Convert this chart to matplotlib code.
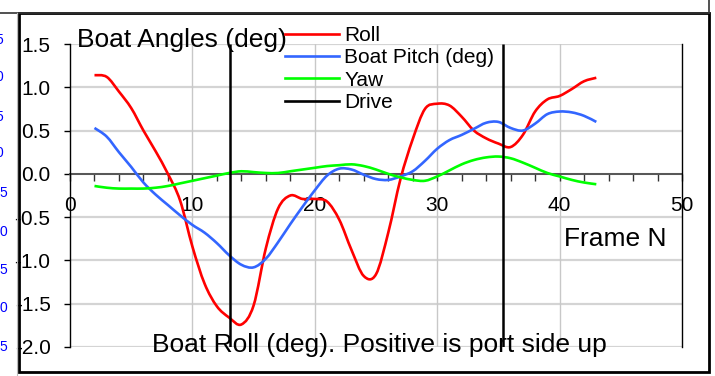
"""Boat angles vs frame number, Excel-style chart."""
import matplotlib
matplotlib.use("Agg")
import matplotlib.pyplot as plt
from matplotlib.path import Path
from matplotlib.patches import PathPatch, Rectangle
from matplotlib.lines import Line2D

plt.rcParams["font.family"] = ["Liberation Sans", "DejaVu Sans"]
plt.rcParams["axes.unicode_minus"] = False

# --- data --------------------------------------------------------------
frames = list(range(2, 44))
roll = [1.14, 1.12, 0.95, 0.76, 0.50, 0.26, 0.00, -0.31, -0.84, -1.27,
        -1.53, -1.66, -1.74, -1.52, -0.86, -0.40, -0.25, -0.29, -0.29, -0.32,
        -0.53, -0.88, -1.18, -1.16, -0.68, -0.06, 0.40, 0.75, 0.81, 0.79,
        0.66, 0.50, 0.41, 0.35, 0.31, 0.45, 0.72, 0.86, 0.90, 0.98,
        1.07, 1.11]
pitch = [0.53, 0.43, 0.25, 0.08, -0.10, -0.24, -0.36, -0.48, -0.59, -0.68,
         -0.80, -0.94, -1.05, -1.08, -0.98, -0.79, -0.58, -0.38, -0.19, -0.02,
         0.06, 0.05, -0.01, -0.06, -0.07, -0.03, 0.03, 0.15, 0.29, 0.39,
         0.45, 0.52, 0.59, 0.60, 0.53, 0.50, 0.58, 0.69, 0.72, 0.71,
         0.67, 0.60]
yaw = [-0.14, -0.16, -0.17, -0.17, -0.17, -0.16, -0.14, -0.11, -0.08, -0.05,
       -0.02, 0.01, 0.03, 0.02, 0.01, 0.01, 0.03, 0.05, 0.07, 0.09,
       0.10, 0.11, 0.09, 0.05, 0.00, -0.04, -0.07, -0.08, -0.03, 0.04,
       0.11, 0.16, 0.19, 0.20, 0.18, 0.13, 0.07, 0.01, -0.03, -0.07,
       -0.10, -0.12]
drive_frames = [13.1, 35.4]
drive_range = [-2.0, 1.5]

series_names = ["Roll", "Boat Pitch (deg)", "Yaw", "Drive"]
series_colors = ["#FF0000", "#3366FF", "#00FF00", "#000000"]

x_ticks = [0, 10, 20, 30, 40, 50]
y_ticks = [1.5, 1.0, 0.5, 0.0, -0.5, -1.0, -1.5, -2.0]
side_labels = ["5", "0", "5", "0", "5", "0", "5", "0", "5"]


def smooth_path(x, y):
    """Excel-like smoothed line: cubic bezier through every point."""
    pts = list(zip(x, y))
    verts = [pts[0]]
    codes = [Path.MOVETO]
    n = len(pts)
    for i in range(n - 1):
        p0 = pts[i - 1] if i > 0 else pts[i]
        p1, p2 = pts[i], pts[i + 1]
        p3 = pts[i + 2] if i + 2 < n else pts[i + 1]
        c1 = (p1[0] + (p2[0] - p0[0]) / 6, p1[1] + (p2[1] - p0[1]) / 6)
        c2 = (p2[0] - (p3[0] - p1[0]) / 6, p2[1] - (p3[1] - p1[1]) / 6)
        verts += [c1, c2, p2]
        codes += [Path.CURVE4] * 3
    return Path(verts, codes)


W, H = 715, 376
fig = plt.figure(figsize=(W / 100, H / 100), dpi=100)
ax = fig.add_axes([70 / W, 1 - 347 / H, (682 - 70) / W, (347 - 44) / H])

ax.set_xlim(0, 50)
ax.set_ylim(-2.0, 1.5)

# grid
for yv in y_ticks:
    ax.axhline(yv, color="#D4D4D4", lw=1.6, zorder=0)
for xv in x_ticks[1:-1]:
    ax.axvline(xv, color="#C8C8C8", lw=1.0, zorder=0)

for vals, col in zip([roll, pitch, yaw], series_colors[:3]):
    ax.add_patch(PathPatch(smooth_path(frames, vals), facecolor="none",
                           edgecolor=col, lw=1.9, zorder=3))
ax.vlines(drive_frames, drive_range[0], drive_range[1], color="black",
          lw=1.8, zorder=4)

# axes styling
ax.spines["top"].set_visible(False)
ax.spines["right"].set_color("black")
ax.spines["right"].set_linewidth(1.0)
ax.spines["left"].set_linewidth(1.0)
ax.spines["bottom"].set_position(("data", 0))
ax.spines["bottom"].set_color("#555555")
ax.spines["bottom"].set_linewidth(1.4)
ax.spines["bottom"].set_zorder(2)

ax.set_yticks(y_ticks)
ax.set_yticklabels([f"{v:.1f}" for v in y_ticks])
ax.tick_params(axis="y", direction="out", length=4, width=1, pad=10,
               labelsize=15)
ax.set_xticks(x_ticks)
ax.set_xticklabels([str(v) for v in x_ticks])
ax.set_xticks(range(0, 51, 2), minor=True)
ax.tick_params(axis="x", which="both", direction="out", length=5, width=1,
               color="#333333", pad=11, labelsize=15)

# legend
handles = [Line2D([], [], color=c, lw=1.9) for c in series_colors]
fig.legend(handles, series_names, loc="upper left",
           bbox_to_anchor=(285 / W, 1 - 26 / H), frameon=False, fontsize=15,
           handlelength=2.6, handletextpad=0.25, labelspacing=0.16,
           borderpad=0, borderaxespad=0)

fig.text(77 / W, 1 - 40 / H, "Boat Angles (deg)", fontsize=19, va="center")
fig.text(666 / W, 1 - 239 / H, "Frame N", fontsize=19, va="center",
         ha="right")
fig.text(152 / W, 1 - 345 / H, "Boat Roll (deg). Positive is port side up",
         fontsize=19, va="center")

# chart frame and the strip of the neighbouring chart on the left
fig.add_artist(Line2D([0, 709 / W], [1 - 12.5 / H] * 2, color="#333333",
                      lw=1.2))
fig.add_artist(Rectangle((18.5 / W, 1 - 372 / H), (709 - 18.5) / W,
                         (372 - 12.5) / H, fill=False, edgecolor="black",
                         lw=2.0))
fig.add_artist(Line2D([709 / W] * 2, [1 - 12.5 / H, 1], color="#333333",
                      lw=1.2))
fig.add_artist(Line2D([16.5 / W] * 2, [0, 1 - 12.5 / H], color="#BBBBBB",
                      lw=0.8))
side_y = [40, 77, 117, 153, 193, 232, 270, 308, 347]
for i, (lab, yy) in enumerate(zip(side_labels, side_y)):
    right = 3 if i < 4 else 7
    fig.text(right / W, 1 - yy / H, lab, color="#0000FF", fontsize=10,
             ha="right", va="center")

fig.savefig("out.png", dpi=100, facecolor="white")
